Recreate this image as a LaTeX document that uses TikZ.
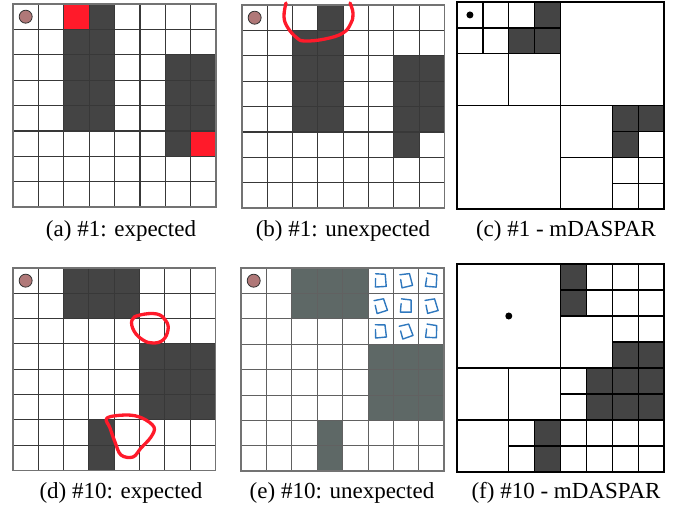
\documentclass[tikz,border=0pt]{standalone}
\usepackage{fontspec}
\setmainfont{Liberation Serif}
\usetikzlibrary{positioning}
\definecolor{cellgray}{HTML}{444444}
\definecolor{scangray}{HTML}{5E6866}
\definecolor{markred}{HTML}{FF1A2A}
\definecolor{agentpink}{HTML}{B07878}
\definecolor{penblue}{HTML}{2F78BE}

\begin{document}
\begin{tikzpicture}[x=1pt, y=-1pt,
  caption/.style={font=\fontsize{23}{26}\selectfont, inner sep=0pt},
  occ/.style={fill=cellgray},
  scanocc/.style={fill=scangray},
  hot/.style={fill=markred},
  gridline/.style={draw=black!78, line width=1.1pt},
  border/.style={draw=black!55, line width=1.7pt},
  scanline/.style={draw=black!62, line width=1pt},
  qline/.style={draw=black, line width=1.3pt},
  qborder/.style={draw=black, line width=1.8pt},
  robot/.style={circle, draw=black!80, fill=agentpink, line width=0.8pt,
                minimum size=13pt, inner sep=0pt},
  goal/.style={circle, fill=black, minimum size=7pt, inner sep=0pt},
  scribble/.style={draw=markred, line width=3.3pt, line cap=round, line join=round},
  pen/.style={draw=penblue, line width=1.4pt, line join=round, line cap=round}
]
\useasboundingbox (0,0) rectangle (674,510);
% ---------------- (a) #1: expected ----------------
\begin{scope}[shift={(13,4)}, x=25.4pt, y=-25.4pt]
  \foreach \c/\r in {3/0,2/1,3/1,2/2,3/2,2/3,3/3,2/4,3/4,6/2,7/2,6/3,7/3,6/4,7/4,6/5}
    \fill[occ] (\c,\r) rectangle ++(1,1);
  \foreach \c/\r in {2/0,7/5}
    \fill[hot] (\c,\r) rectangle ++(1,1);
  \foreach \i in {1,...,7}{
    \draw[gridline] (\i,0) -- (\i,8);
    \draw[gridline] (0,\i) -- (8,\i);
  }
  \draw[border] (0,0) rectangle (8,8);
  \node[robot] (ra) at (0.5,0.5) {};
\end{scope}
% ---------------- (b) #1: unexpected ----------------
\begin{scope}[shift={(242,5)}, x=25.3pt, y=-25.4pt]
  \foreach \c/\r in {3/0,2/1,3/1,2/2,3/2,2/3,3/3,2/4,3/4,6/2,7/2,6/3,7/3,6/4,7/4,6/5}
    \fill[occ] (\c,\r) rectangle ++(1,1);
  \foreach \i in {1,...,7}{
    \draw[gridline] (\i,0) -- (\i,8);
    \draw[gridline] (0,\i) -- (8,\i);
  }
  \draw[border] (0,0) rectangle (8,8);
  \node[robot] (rb) at (0.5,0.5) {};
\end{scope}
\draw[scribble] plot[smooth, tension=0.7] coordinates
  {(286,3) (284,17) (288,28) (297,38) (305,41) (325,39) (343,33) (351,23) (353,13) (350,3)};
% ---------------- (c) #1 - mDASPAR ----------------
\begin{scope}[shift={(457,2)}, x=25.9pt, y=-25.9pt]
  \foreach \c/\r in {3/0,2/1,3/1,6/4,7/4,6/5}
    \fill[occ] (\c,\r) rectangle ++(1,1);
  \foreach \c/\r/\s in {0/0/1,1/0/1,2/0/1,3/0/1,0/1/1,1/1/1,2/1/1,3/1/1,0/2/2,2/2/2,
                        4/0/4,0/4/4,4/4/2,6/4/1,7/4/1,6/5/1,7/5/1,4/6/2,
                        6/6/1,7/6/1,6/7/1,7/7/1}
    \draw[qline] (\c,\r) rectangle ++(\s,\s);
  \draw[qborder] (0,0) rectangle (8,8);
  \node[goal] (gc) at (0.5,0.5) {};
\end{scope}
% ---------------- (d) #10: expected ----------------
\begin{scope}[shift={(13,268)}, x=25.3pt, y=-25.3pt]
  \foreach \c/\r in {2/0,3/0,4/0,2/1,3/1,4/1,5/3,6/3,7/3,5/4,6/4,7/4,5/5,6/5,7/5,3/6,3/7}
    \fill[occ] (\c,\r) rectangle ++(1,1);
  \foreach \i in {1,...,7}{
    \draw[gridline] (\i,0) -- (\i,8);
    \draw[gridline] (0,\i) -- (8,\i);
  }
  \draw[border] (0,0) rectangle (8,8);
  \node[robot] (rd) at (0.5,0.5) {};
\end{scope}
\draw[scribble] plot[smooth cycle, tension=0.7] coordinates
  {(132,320) (140,315) (157,314) (166,321) (168,330) (163,340) (153,343) (143,340) (134,331)};
\draw[scribble] plot[smooth cycle, tension=0.6] coordinates
  {(107,418) (127,415) (142,418) (154,427) (151,437) (141,448) (133,457) (121,455) (115,442) (110,428)};
% ---------------- (e) #10: unexpected ----------------
\begin{scope}[shift={(241,268)}, x=25.4pt, y=-25.4pt]
  \foreach \c/\r in {2/0,3/0,4/0,2/1,3/1,4/1,5/3,6/3,7/3,5/4,6/4,7/4,5/5,6/5,7/5,3/6,3/7}
    \fill[scanocc] (\c,\r) rectangle ++(1,1);
  \foreach \i in {1,...,7}{
    \draw[scanline] (\i,0) -- (\i,8);
    \draw[scanline] (0,\i) -- (8,\i);
  }
  \draw[border] (0,0) rectangle (8,8);
  \node[robot] (re) at (0.5,0.5) {};
  % pen marks
  \foreach \c/\r/\t in {5/0/-6,6/0/4,7/0/-14,5/1/8,6/1/-10,7/1/6,5/2/-4,6/2/10,7/2/-12}
    \draw[pen, shift={(\c+0.5,\r+0.5)}, rotate=\t]
      (-0.23,-0.25) -- (0.15,-0.27) -- (0.24,0.2) -- (-0.18,0.27) -- (-0.21,-0.06);
\end{scope}
% ---------------- (f) #10 - mDASPAR ----------------
\begin{scope}[shift={(457,264)}, x=25.9pt, y=-26pt]
  \foreach \c/\r in {4/0,4/1,6/3,7/3,3/6,3/7,5/4,5/5,6/4,7/4,6/5,7/5}
    \fill[occ] (\c,\r) rectangle ++(1,1);
  \foreach \c/\r/\s in {0/0/4,4/0/1,5/0/1,4/1/1,5/1/1,6/0/1,7/0/1,6/1/1,7/1/1,
                        4/2/2,6/2/1,7/2/1,6/3/1,7/3/1,0/4/2,2/4/2,0/6/2,
                        2/6/1,3/6/1,2/7/1,3/7/1,4/4/1,5/4/1,4/5/1,5/5/1,
                        6/4/1,7/4/1,6/5/1,7/5/1,4/6/1,5/6/1,4/7/1,5/7/1,
                        6/6/1,7/6/1,6/7/1,7/7/1}
    \draw[qline] (\c,\r) rectangle ++(\s,\s);
  \draw[qborder] (0,0) rectangle (8,8);
  \node[goal] (gf) at (2,2) {};
\end{scope}
% ---------------- captions ----------------
\node[caption] (capa) at (121,231) {(a) \#1: expected};
\node[caption] (capb) at (343,231) {(b) \#1: unexpected};
\node[caption] (capc) at (566,231) {(c) \#1 - mDASPAR};
\node[caption] (capd) at (121,493) {(d) \#10: expected};
\node[caption] (cape) at (342,493) {(e) \#10: unexpected};
\node[caption] (capf) at (566,493) {(f) \#10 - mDASPAR};
\end{tikzpicture}
\end{document}
